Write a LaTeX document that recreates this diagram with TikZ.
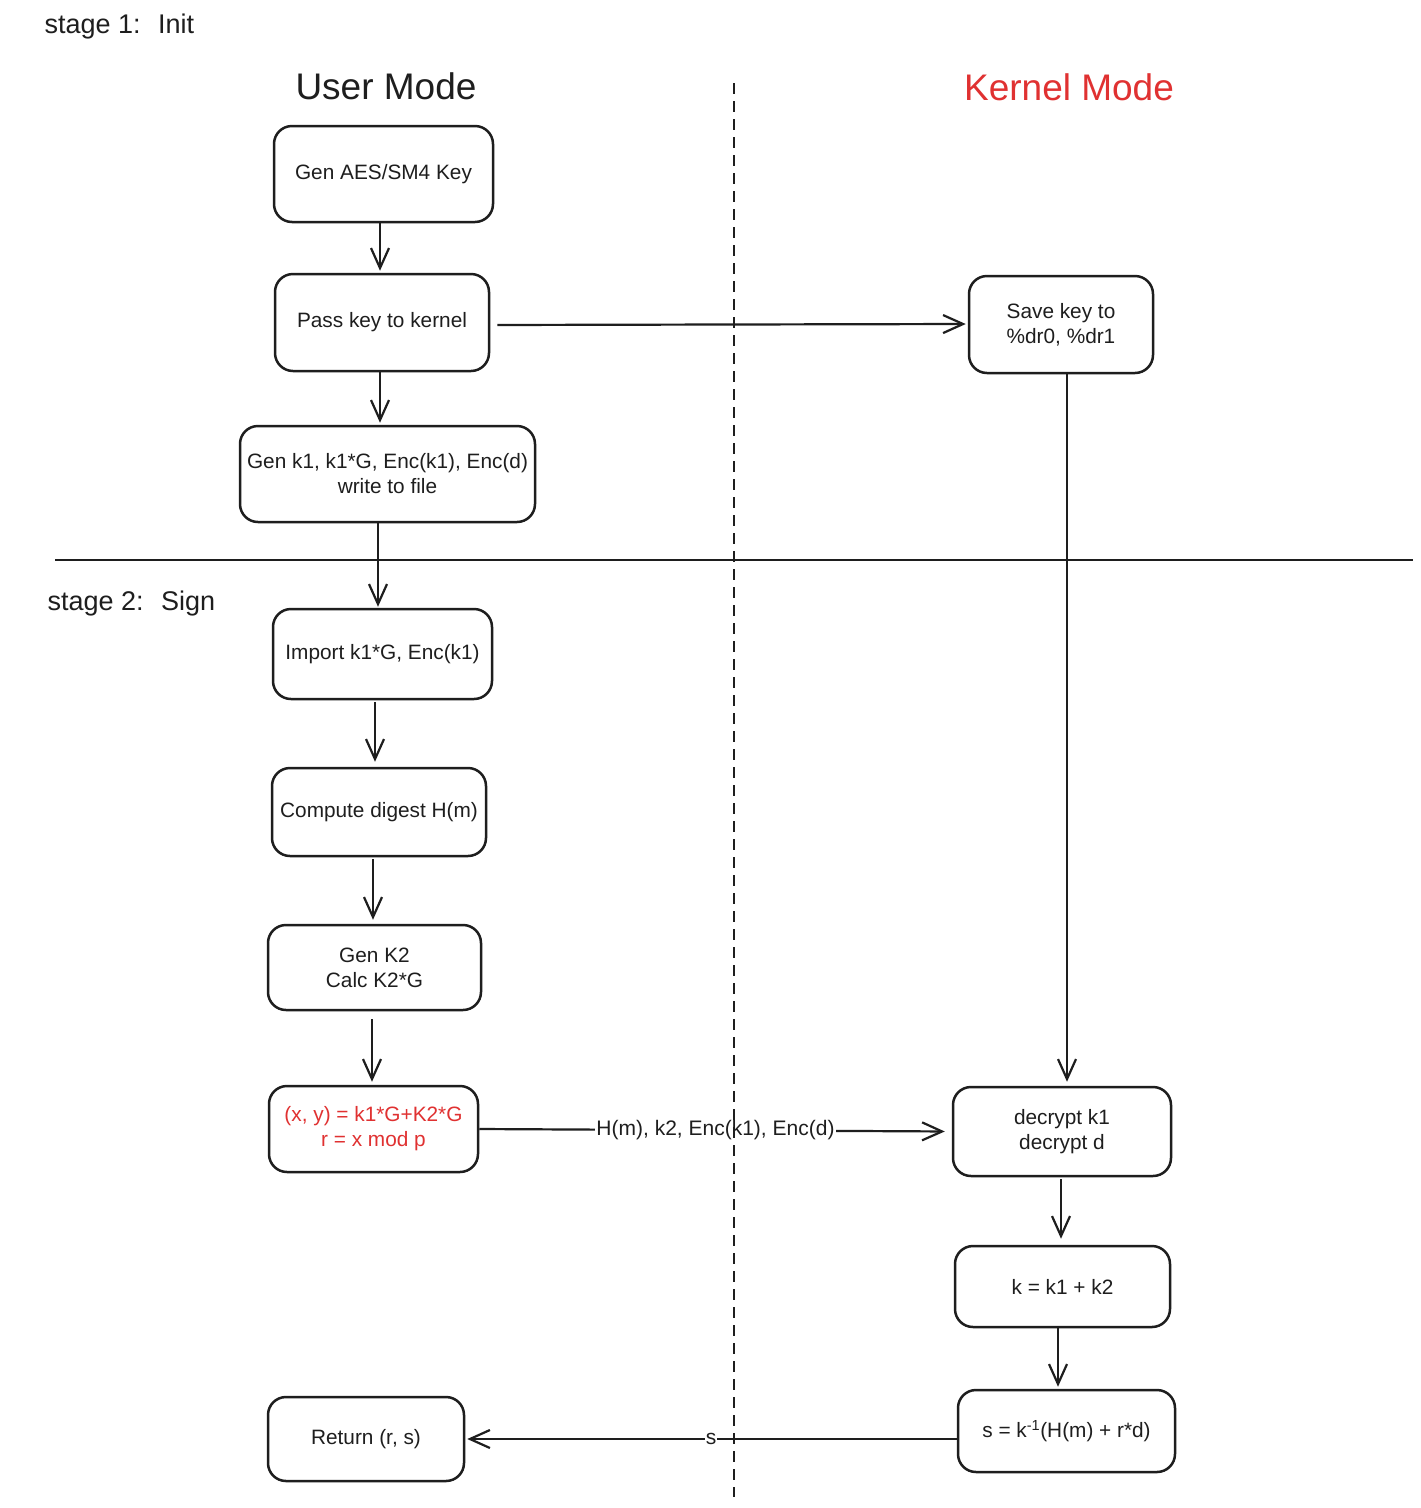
\documentclass[tikz,border=0pt]{standalone}
\usepackage{fontspec}
\setmainfont{Liberation Sans}
\usetikzlibrary{arrows.meta}
\definecolor{exred}{HTML}{E03131}
\definecolor{exink}{HTML}{1E1E1E}
\tikzset{
  box/.style={draw=exink, rounded corners=18pt, line width=2.5pt, align=center,
    inner sep=0pt, font=\fontsize{20.8}{25}\selectfont, text=exink},
  arr/.style={draw=exink, line width=2.2pt,
    -{Straight Barb[length=20pt,width=18pt,line width=2.2pt]}},
  lbl/.style={fill=white, inner sep=1pt, font=\fontsize{21}{24}\selectfont, text=exink},
  title/.style={font=\fontsize{37}{42}\selectfont, text=exink},
  stagelbl/.style={font=\fontsize{27}{32}\selectfont, text=exink, anchor=west},
}
\begin{document}
\begin{tikzpicture}[x=1pt,y=-1pt]
\useasboundingbox[fill=white] (0,0) rectangle (1421,1508);

% titles
\node[stagelbl] (st1) at (41,27) {stage 1:\; Init};
\node[stagelbl] (st2) at (44,604) {stage 2:\; Sign};
\node[title] (um) at (386,86) {User Mode};
\node[title, text=exred] (km) at (1069,87) {Kernel Mode};

% user-mode boxes
\node[box, minimum width=219pt, minimum height=96pt] (n1) at (383.5,174) {Gen AES/SM4 Key};
\node[box, minimum width=214pt, minimum height=97pt] (n2) at (382,322.5) {Pass key to kernel};
\node[box, minimum width=295pt, minimum height=96pt] (n3) at (387.5,474) {Gen k1, k1*G, Enc(k1), Enc(d)\\write to file};
\node[box, minimum width=219pt, minimum height=90pt] (n5) at (382.5,654) {Import k1*G, Enc(k1)};
\node[box, minimum width=214pt, minimum height=88pt] (n6) at (379,812) {Compute digest H(m)};
\node[box, minimum width=213pt, minimum height=85pt] (n7) at (374.5,967.5) {Gen K2\\Calc K2*G};
\node[box, minimum width=209pt, minimum height=86pt, text=exred] (n8) at (373.5,1129) {(x, y) = k1*G+K2*G\\r = x mod p};
\node[box, minimum width=196pt, minimum height=84pt] (n12) at (366,1439) {Return (r, s)};

% kernel-mode boxes
\node[box, minimum width=184pt, minimum height=97pt] (n4) at (1061,324.5) {Save key to\\\%dr0, \%dr1};
\node[box, minimum width=218pt, minimum height=89pt] (n9) at (1062,1131.5) {decrypt k1\\decrypt d};
\node[box, minimum width=215pt, minimum height=81pt] (n10) at (1062.5,1286.5) {k = k1 + k2};
\node[box, minimum width=217pt, minimum height=82pt] (n11) at (1066.5,1431) {s = k\textsuperscript{-1}(H(m) + r*d)};

% stage separator
\coordinate (sepL) at (55,560);
\coordinate (sepR) at (1413,560);
\draw[exink, line width=2.2pt] (sepL) -- (sepR);

% connectors
\draw[arr, shorten >=2pt] (n1.south -| 380,0) -- (n2.north -| 380,0);
\draw[arr, shorten >=2pt] (n2.south -| 380,0) -- (n3.north -| 380,0);
\draw[arr, shorten <=7pt, shorten >=2pt] (n2.east |- 0,325) -- (n4.west |- 0,324);
\draw[arr, shorten >=1pt] (n3.south -| 378,0) -- (n5.north -| 378,0);
\draw[arr, line width=2.6pt, shorten <=2pt, shorten >=5pt] (n5.south -| 375,0) -- (n6.north -| 375,0);
\draw[arr, line width=2.6pt, shorten <=2pt, shorten >=4pt] (n6.south -| 373,0) -- (n7.north -| 373,0);
\draw[arr, line width=2.6pt, shorten <=8pt, shorten >=3pt] (n7.south -| 372,0) -- (n8.north -| 372,0);
\draw[arr, shorten >=4pt] (n4.south -| 1067,0) -- (n9.north -| 1067,0);
\draw[arr, shorten >=7pt] (n8.east) -- node[lbl] (l89) {H(m), k2, Enc(k1), Enc(d)} (n9.west);
\draw[arr, line width=2.6pt, shorten <=2pt, shorten >=6pt] (n9.south -| 1061,0) -- (n10.north -| 1061,0);
\draw[arr, line width=2.6pt, shorten >=2pt] (n10.south -| 1058,0) -- (n11.north -| 1058,0);
\draw[arr, shorten >=2pt] (n11.west |- 0,1439) -- node[lbl, inner sep=0.5pt] (ls) {s} (n12.east);

% user/kernel divider
\coordinate (divT) at (734,83);
\coordinate (divB) at (734,1497);
\draw[exink, line width=2.2pt, dash pattern=on 11pt off 7pt] (divT) -- (divB);
\end{tikzpicture}
\end{document}
